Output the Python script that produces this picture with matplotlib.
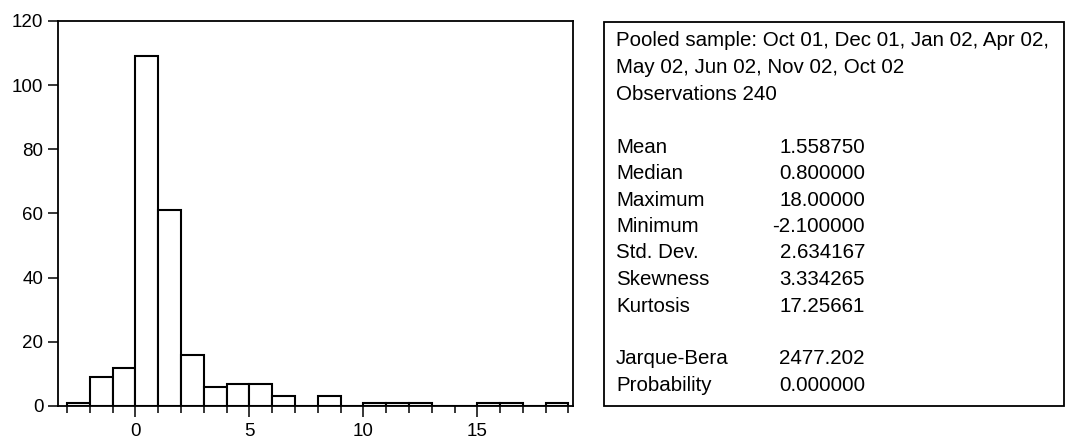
#Imports
import matplotlib
matplotlib.use('Agg')
import matplotlib.pyplot as plt
import matplotlib.patches as patches
import numpy as np

plt.rcParams['font.family'] = ['Liberation Sans', 'DejaVu Sans']

#Histogram data (bins of width 1 from -3 to 19)
bin_edges = np.arange(-3, 20, 1)
counts = [1, 9, 12, 109, 61, 16, 6, 7, 7, 3, 0, 3, 0, 1, 1, 1, 0, 0, 1, 1, 0, 1]

#Descriptive statistics text
header_lines = ['Pooled sample: Oct 01, Dec 01, Jan 02, Apr 02,',
                'May 02, Jun 02, Nov 02, Oct 02',
                'Observations 240']
stat_names = ['Mean', 'Median', 'Maximum', 'Minimum', 'Std. Dev.', 'Skewness', 'Kurtosis']
stat_values = ['1.558750', '0.800000', '18.00000', '-2.100000', '2.634167', '3.334265', '17.25661']
test_names = ['Jarque-Bera', 'Probability']
test_values = ['2477.202', '0.000000']

W, H = 1065, 447
fig = plt.figure(figsize=(W / 100, H / 100), dpi=100)

#Histogram panel
ax = fig.add_axes([58 / W, 1 - 406 / H, (573 - 58) / W, (406 - 21) / H])
ax.bar(bin_edges[:-1], counts, width=1, align='edge', color='white',
       edgecolor='black', linewidth=1.5)
ax.set_xlim(-3.4, 19.2)
ax.set_ylim(0, 120)
ax.set_yticks(np.arange(0, 121, 20))
ax.set_xticks([0, 5, 10, 15])
ax.set_xticks(np.arange(-3, 20, 1), minor=True)
for s in ax.spines.values():
    s.set_linewidth(1.3)
ax.tick_params(axis='y', direction='out', length=7, width=1.1, pad=3.5, labelsize=13.5)
ax.tick_params(axis='x', which='major', direction='out', length=8, width=1.1, pad=4, labelsize=13.5)
ax.tick_params(axis='x', which='minor', direction='out', length=5, width=1.1)

#Stats box
box = patches.Rectangle((604 / W, 1 - 406 / H), (1064 - 604) / W, (406 - 22) / H,
                        transform=fig.transFigure, fill=False, edgecolor='black', linewidth=1.3)
fig.add_artist(box)

line_h = 26.5
y0 = 41
fs = 14.8
for i, t in enumerate(header_lines):
    fig.text(616 / W, 1 - (y0 + i * line_h) / H, t, fontsize=fs, va='center', ha='left')
for i, (n, v) in enumerate(zip(stat_names, stat_values)):
    yy = 1 - (y0 + (4 + i) * line_h) / H
    fig.text(616 / W, yy, n, fontsize=fs, va='center', ha='left')
    fig.text(865 / W, yy, v, fontsize=fs, va='center', ha='right')
for i, (n, v) in enumerate(zip(test_names, test_values)):
    yy = 1 - (y0 + (12 + i) * line_h) / H
    fig.text(616 / W, yy, n, fontsize=fs, va='center', ha='left')
    fig.text(865 / W, yy, v, fontsize=fs, va='center', ha='right')

plt.savefig('out.png', dpi=100)
